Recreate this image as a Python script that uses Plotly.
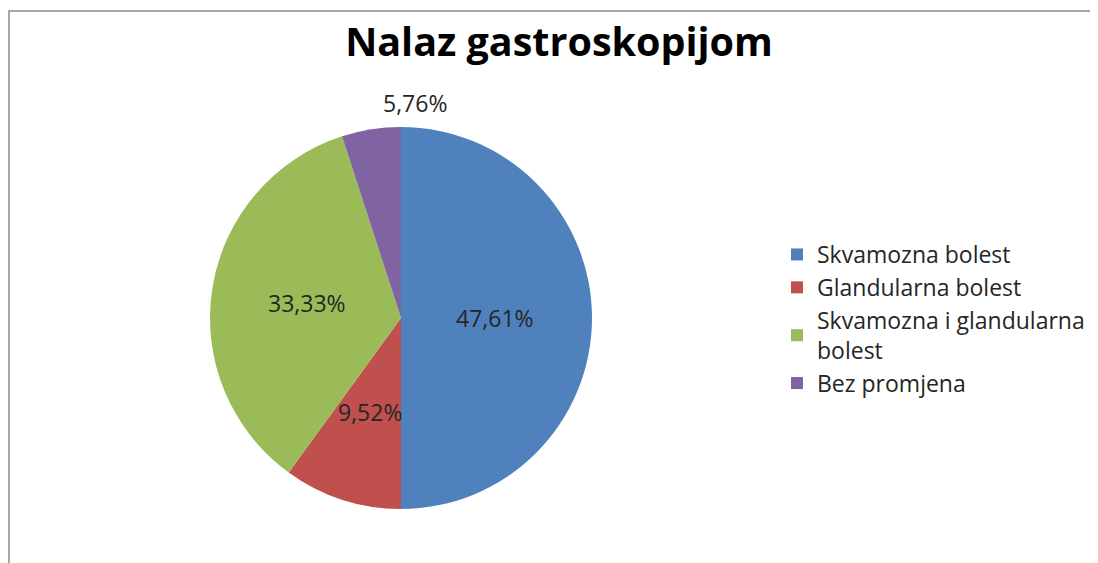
import math
import plotly.graph_objects as go

categories = ["Skvamozna bolest", "Glandularna bolest", "Skvamozna i glandularna<br>bolest", "Bez promjena"]
values = [10, 2, 7, 1]
value_labels = ["47,61%", "9,52%", "33,33%", "5,76%"]
colors = ["#4f81bd", "#c0504d", "#9bbb59", "#8064a2"]

# label placement style (radial fraction of radius, extra x shift in px)
label_radius = [0.49, 0.52, 0.50, 1.14]
label_xshift = [0, 0, 0, 48]

W, H = 1098, 563
OFF = 8  # page body margin
cx, cy, r = 401 - OFF, 318 - OFF, 191

fig = go.Figure(go.Pie(
    labels=categories,
    values=values,
    textinfo="none",
    sort=False,
    direction="clockwise",
    rotation=0,
    marker=dict(colors=colors, line=dict(width=0)),
    domain=dict(x=[(cx - r) / W, (cx + r) / W], y=[1 - (cy + r) / H, 1 - (cy - r) / H]),
    hovertext=value_labels,
    hoverinfo="label+text",
))

total = sum(values)
annotations = []
cum = 0
for v, t, f, xs in zip(values, value_labels, label_radius, label_xshift):
    mid = (cum + v / 2) / total * 2 * math.pi
    cum += v
    px = cx + f * r * math.sin(mid)
    py = cy - f * r * math.cos(mid)
    annotations.append(dict(
        x=px / W, y=1 - py / H, xref="paper", yref="paper",
        text=t, showarrow=False, xanchor="center", yanchor="middle", xshift=xs,
        font=dict(family="Open Sans", size=23, color="#262626"),
    ))

fig.update_layout(
    width=W, height=H,
    margin=dict(l=0, r=0, t=0, b=0),
    paper_bgcolor="white",
    plot_bgcolor="white",
    title=dict(text="<b>Nalaz gastroskopijom</b>", x=(559 - OFF) / W, xanchor="center",
               y=1 - (42 - OFF) / H, yanchor="middle",
               font=dict(family="Open Sans", size=39.5, color="#000000")),
    legend=dict(x=(777 - OFF) / W, xanchor="left", y=1 - (319 - OFF) / H, yanchor="middle",
                font=dict(family="Open Sans", size=23, color="#262626"),
                bgcolor="rgba(0,0,0,0)"),
    annotations=annotations,
    shapes=[dict(type="rect", xref="paper", yref="paper",
                 x0=1 / W, x1=1.05, y0=-0.05, y1=1 - 3 / H,
                 line=dict(color="#a6a6a6", width=2))],
)

fig.write_html("out.html")
